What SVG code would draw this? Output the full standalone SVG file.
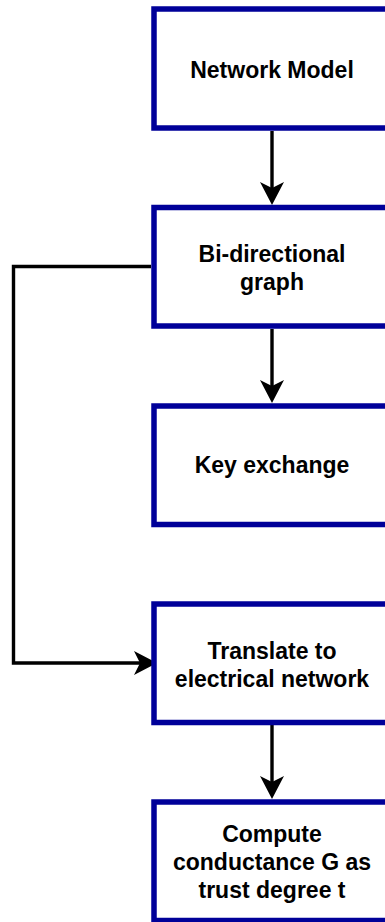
<svg xmlns="http://www.w3.org/2000/svg" width="385" height="922" viewBox="0 0 385 922">
  <style>
    .box { fill: #ffffff; stroke: #000099; stroke-width: 5.5; }
    .lbl { font-family: "Liberation Sans", Arial, sans-serif; font-weight: bold; font-size: 23px; fill: #000000; text-anchor: middle; }
    .wire { fill: none; stroke: #000000; stroke-width: 3.4; }
  </style>
  <defs>
    <marker id="head" markerUnits="userSpaceOnUse" markerWidth="24" markerHeight="24" viewBox="0 0 24 24" refX="6" refY="12" orient="auto">
      <path d="M0,0 L23,12 L0,24 L6,12 Z" fill="#000000"/>
    </marker>
  </defs>
  <rect width="385" height="922" fill="#ffffff"/>

  <g id="connectors">
    <line class="wire" x1="272" y1="131" x2="272" y2="188" marker-end="url(#head)"/>
    <line class="wire" x1="272" y1="329" x2="272" y2="386" marker-end="url(#head)"/>
    <line class="wire" x1="272" y1="725" x2="272" y2="782" marker-end="url(#head)"/>
    <path class="wire" d="M151,266.5 H13.5 V663 H140" marker-end="url(#head)"/>
  </g>

  <g id="network-model">
    <rect class="box" x="154" y="9" width="240" height="119"/>
    <text class="lbl" x="272" y="78">Network Model</text>
  </g>

  <g id="bidirectional-graph">
    <rect class="box" x="154" y="207.5" width="240" height="118.5"/>
    <text class="lbl" x="272" y="262">Bi-directional</text>
    <text class="lbl" x="272" y="290">graph</text>
  </g>

  <g id="key-exchange">
    <rect class="box" x="154" y="406" width="240" height="118.5"/>
    <text class="lbl" x="272" y="473">Key exchange</text>
  </g>

  <g id="electrical-network">
    <rect class="box" x="154" y="604" width="240" height="118.5"/>
    <text class="lbl" x="272" y="659">Translate to</text>
    <text class="lbl" x="272" y="687">electrical network</text>
  </g>

  <g id="conductance">
    <rect class="box" x="154" y="802" width="240" height="118.5"/>
    <text class="lbl" x="272" y="842">Compute</text>
    <text class="lbl" x="272" y="870">conductance G as</text>
    <text class="lbl" x="272" y="898">trust degree t</text>
  </g>
</svg>
